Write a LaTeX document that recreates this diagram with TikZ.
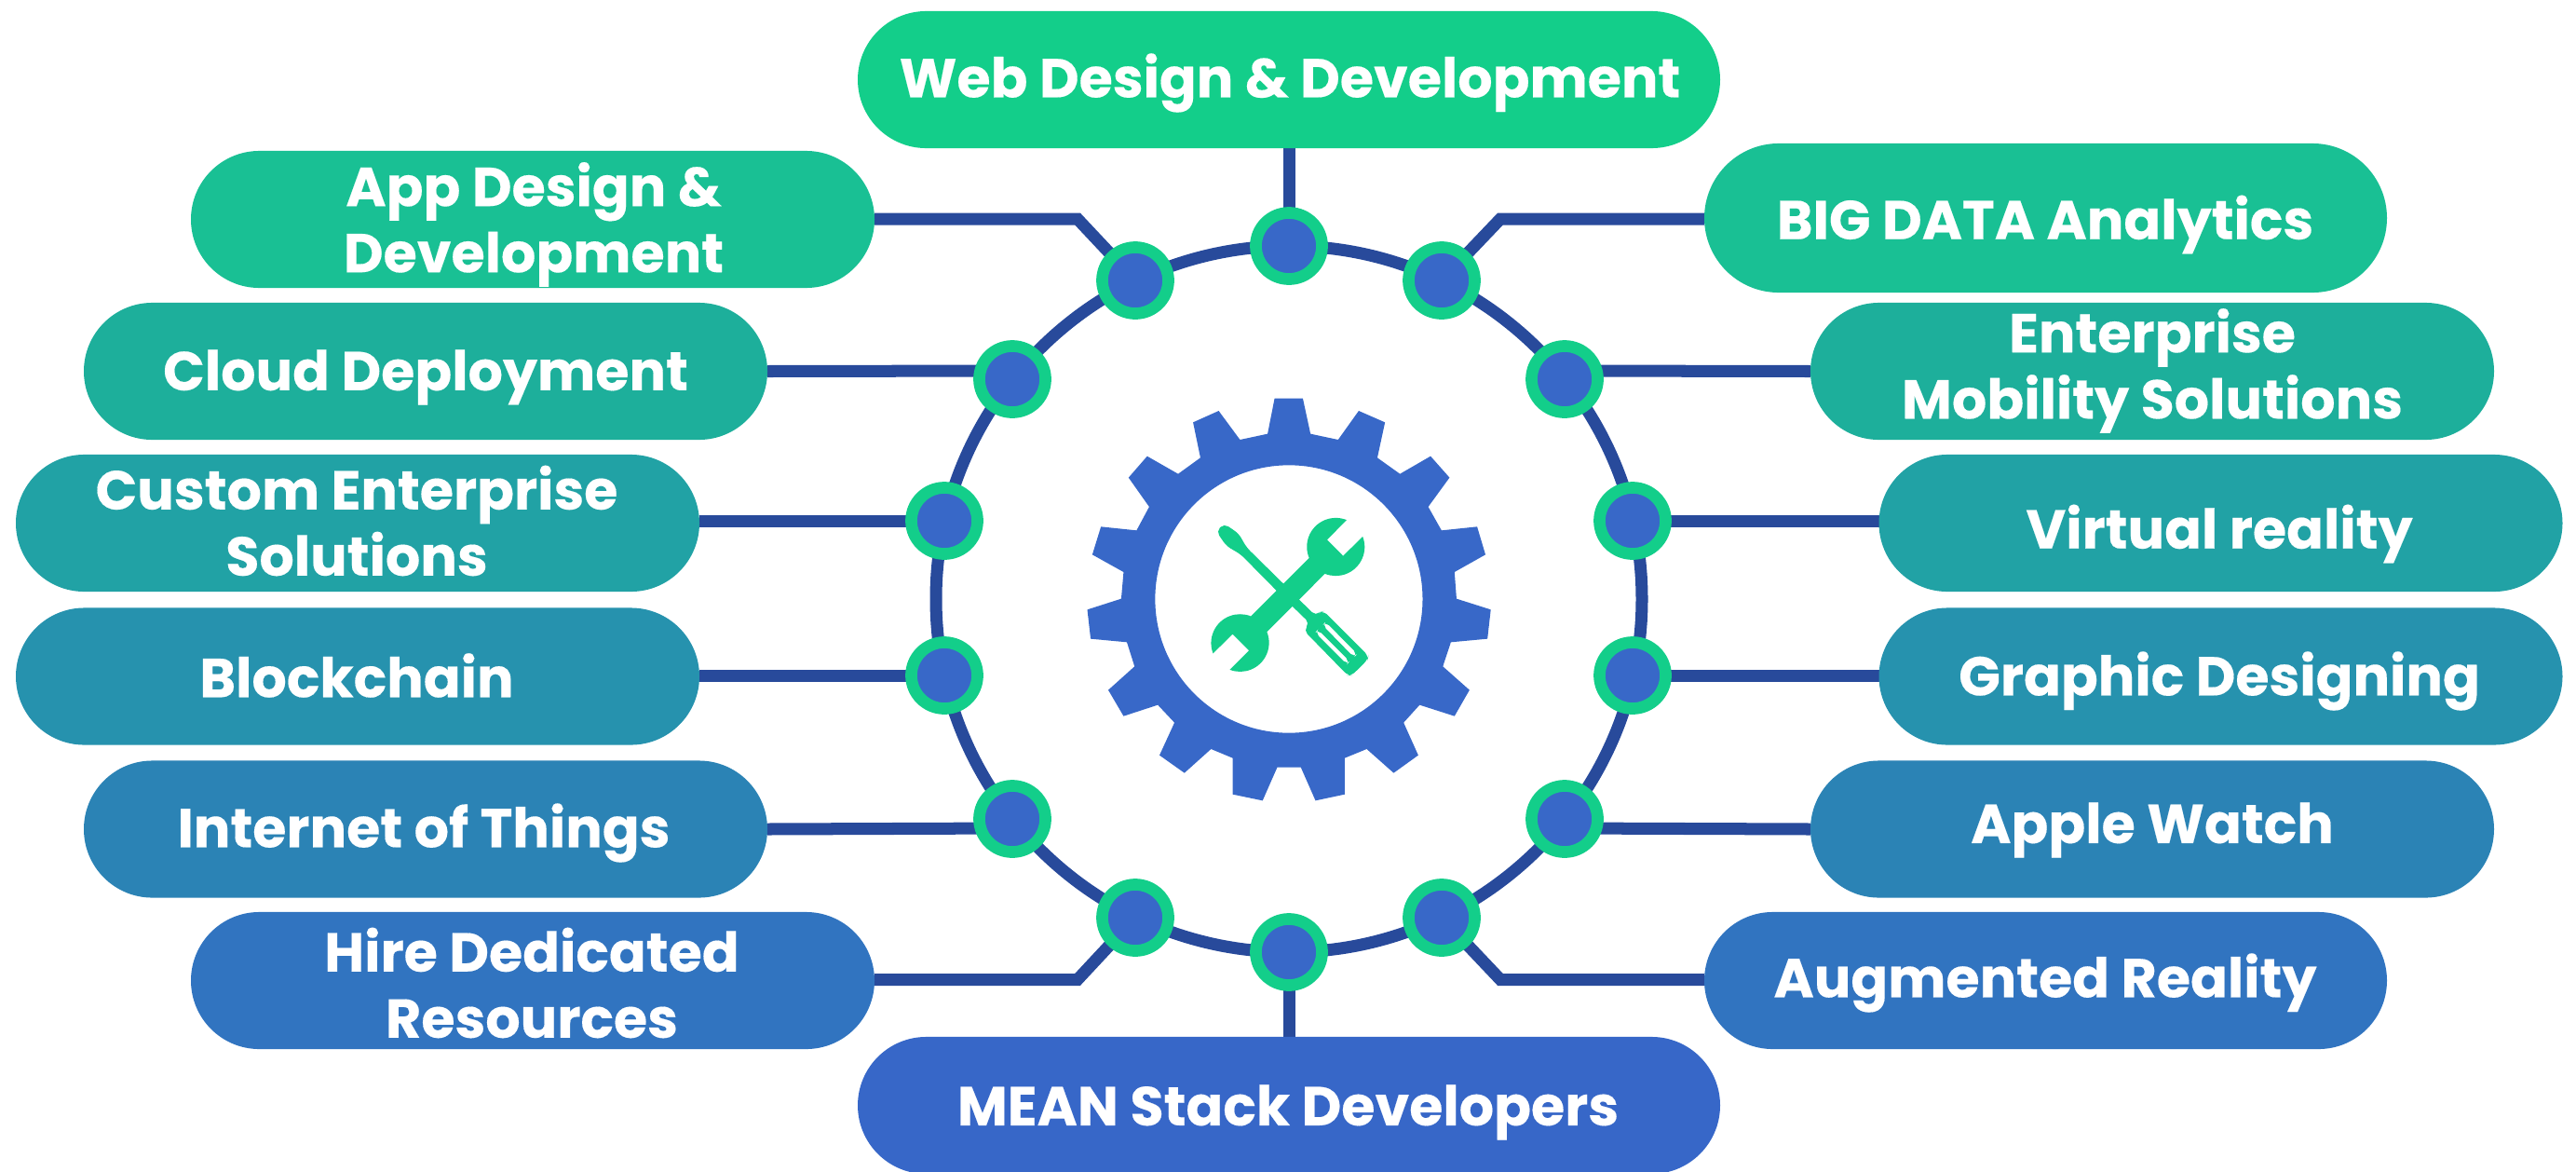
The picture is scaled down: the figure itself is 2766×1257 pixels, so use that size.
\documentclass[tikz,border=0pt]{standalone}
\usepackage{fontspec}
\setmainfont{Poppins}[BoldFeatures={FakeBold=0.25}]
\usetikzlibrary{shapes.misc,backgrounds}
\definecolor{cA}{HTML}{13CE8A}
\definecolor{cB}{HTML}{19C094}
\definecolor{cC}{HTML}{1DAF9B}
\definecolor{cD}{HTML}{21A2A5}
\definecolor{cE}{HTML}{2692AE}
\definecolor{cF}{HTML}{2B83B5}
\definecolor{cG}{HTML}{3174C0}
\definecolor{cH}{HTML}{3767C8}
\definecolor{linec}{HTML}{284A9B}
\definecolor{gearc}{HTML}{3868C8}
\tikzset{
  pill/.style={rounded rectangle,minimum width=#1*0.01cm,minimum height=1.47cm,inner sep=0pt,outer sep=0pt},
  lab/.style={text=white,font=\fontsize{16.7}{20.2}\selectfont\bfseries,align=center,inner sep=0pt},
  hub/.style={circle,fill=gearc,draw=cA,line width=0.127cm,minimum size=0.71cm,inner sep=0pt,outer sep=0pt},
  link/.style={draw=linec,line width=0.13cm,line join=miter},
}
\begin{document}
\begin{tikzpicture}[x=0.01cm,y=-0.01cm]
\useasboundingbox (0,0) rectangle (2766,1257);
% pills
\node[pill=926,fill=cA] (web) at (1384,85.5) {};
\node[pill=734,fill=cB] (app) at (572,235.5) {};
\node[pill=734,fill=cC] (cloud) at (457,398.5) {};
\node[pill=734,fill=cD] (custom) at (384,561.5) {};
\node[pill=734,fill=cE] (block) at (384,726) {};
\node[pill=734,fill=cF] (iot) at (457,890) {};
\node[pill=734,fill=cG] (hire) at (572,1052.5) {};
\node[pill=926,fill=cH] (mean) at (1384,1186.5) {};
\node[pill=733,minimum height=1.6cm,fill=cB] (big) at (2196.5,234) {};
\node[pill=734,fill=cC] (ent) at (2311,398.5) {};
\node[pill=734,fill=cD] (vr) at (2384.5,561.5) {};
\node[pill=734,fill=cE] (graphic) at (2384.5,726) {};
\node[pill=734,fill=cF] (apple) at (2311,890) {};
\node[pill=733,fill=cG] (ar) at (2196.5,1052.5) {};
% labels
\node[lab] (tweb) at (1385,89) {Web Design \& Development};
\node[lab] (tapp) at (573,241) {App Design \&\\Development};
\node[lab] (tcloud) at (457,405) {Cloud Deployment};
\node[lab] (tcustom) at (383,559) {Custom Enterprise\\Solutions};
\node[lab] (tblock) at (383,725) {Blockchain};
\node[lab] (tiot) at (455,894) {Internet of Things};
\node[lab] (thire) at (571,1055) {Hire Dedicated\\Resources};
\node[lab] (tmean) at (1383,1194) {MEAN Stack Developers};
\node[lab] (tbig) at (2196,241) {BIG DATA Analytics};
\node[lab] (tent) at (2311,398) {Enterprise\\Mobility Solutions};
\node[lab] (tvr) at (2383,573) {Virtual reality};
\node[lab] (tgraphic) at (2383,731) {Graphic Designing};
\node[lab] (tapple) at (2311,891) {Apple Watch};
\node[lab] (tar) at (2196,1055) {Augmented Reality};
% hubs
\node[hub] (h1) at (1384,264) {};
\node[hub] (h2) at (1548,301) {};
\node[hub] (h3) at (1680,407) {};
\node[hub] (h4) at (1753,559) {};
\node[hub] (h5) at (1753,725) {};
\node[hub] (h6) at (1680,879) {};
\node[hub] (h7) at (1548,985) {};
\node[hub] (h8) at (1384,1022) {};
\node[hub] (h9) at (1219,985) {};
\node[hub] (h10) at (1087,879) {};
\node[hub] (h11) at (1014,725) {};
\node[hub] (h12) at (1014,559) {};
\node[hub] (h13) at (1087,407) {};
\node[hub] (h14) at (1219,301) {};
\coordinate (kapp) at (1157,235);
\coordinate (kbig) at (1611,235);
\coordinate (khire) at (1157,1051.5);
\coordinate (kar) at (1611,1051.5);
\begin{scope}[on background layer]
\draw[link] (1384,643) circle[radius=379];
\draw[link] (web) -- (h1);
\draw[link] (mean) -- (h8);
\draw[link] (h14) -- (kapp) -- (app.east |- kapp);
\draw[link] (h2) -- (kbig) -- (big.west |- kbig);
\draw[link] (h9) -- (khire) -- (hire.east |- khire);
\draw[link] (h7) -- (kar) -- (ar.west |- kar);
\draw[link] (h13.center) ++(0,-9) -- (cloud.east);
\draw[link] (h12) -- (custom.east |- h12);
\draw[link] (h11) -- (block.east |- h11);
\draw[link] (h10) ++(0,10) -- (iot.east);
\draw[link] (h3) ++(0,-9) -- (ent.west);
\draw[link] (h4) -- (vr.west |- h4);
\draw[link] (h5) -- (graphic.west |- h5);
\draw[link] (h6) ++(0,10) -- (apple.west);
\end{scope}
% gear
\begin{scope}[shift={(1100,380)},xscale=0.35714,yscale=0.33333]
\fill[gearc,even odd rule] (752,143)--(837,143)--(860,257)--(943,276)--(1005,183)--(1084,220)--(1061,334)--(1129,386)--(1221,329)--(1278,398)--(1214,492)--(1254,568)--(1361,556)--(1386,646)--(1293,702)--(1299,788)--(1402,823)--(1392,917)--(1282,928)--(1258,1006)--(1338,1082)--(1293,1166)--(1188,1130)--(1140,1187)--(1184,1292)--(1110,1349)--(1029,1272)--(963,1301)--(963,1418)--(875,1438)--(831,1331)--(760,1331)--(716,1438)--(626,1418)--(626,1301)--(561,1272)--(481,1349)--(406,1292)--(451,1187)--(401,1130)--(298,1166)--(252,1082)--(331,1006)--(308,928)--(199,917)--(189,823)--(291,788)--(298,702)--(204,646)--(230,556)--(337,568)--(375,492)--(313,398)--(369,329)--(462,386)--(529,334)--(507,220)--(584,183)--(648,276)--(731,257)--cycle
 (795,789) ellipse[x radius=402,y radius=431];
% screwdriver
\fill[cA,even odd rule,rounded corners=1.5] (600,546)--(644,578)--(668,623)--(778,739)--(826,791)--(876,843)--(888,831)--(900,828)--(1034,972)--(1032,984)--(984,1035)--(972,1035)--(840,890)--(857,866)--(806,813)--(757,761)--(650,645)--(607,618)--(577,571)--cycle
 (905,862)--(1001,966)--(991,977)--(896,873)--cycle
 (882,887)--(978,990)--(970,1000)--(874,897)--cycle;
% wrench
\fill[cA] (856,657) arc[start angle=157,end angle=292,x radius=87,y radius=93]
 --(910,598)--(958,650)--(1017,588) arc[start angle=-21,end angle=112,x radius=87,y radius=93]
 --(729,895) arc[start angle=-22,end angle=111,x radius=87,y radius=93]
 --(675,955)--(626,902)--(567,964) arc[start angle=159,end angle=292,x radius=87,y radius=93]
 --cycle;
\end{scope}
\end{tikzpicture}
\end{document}
